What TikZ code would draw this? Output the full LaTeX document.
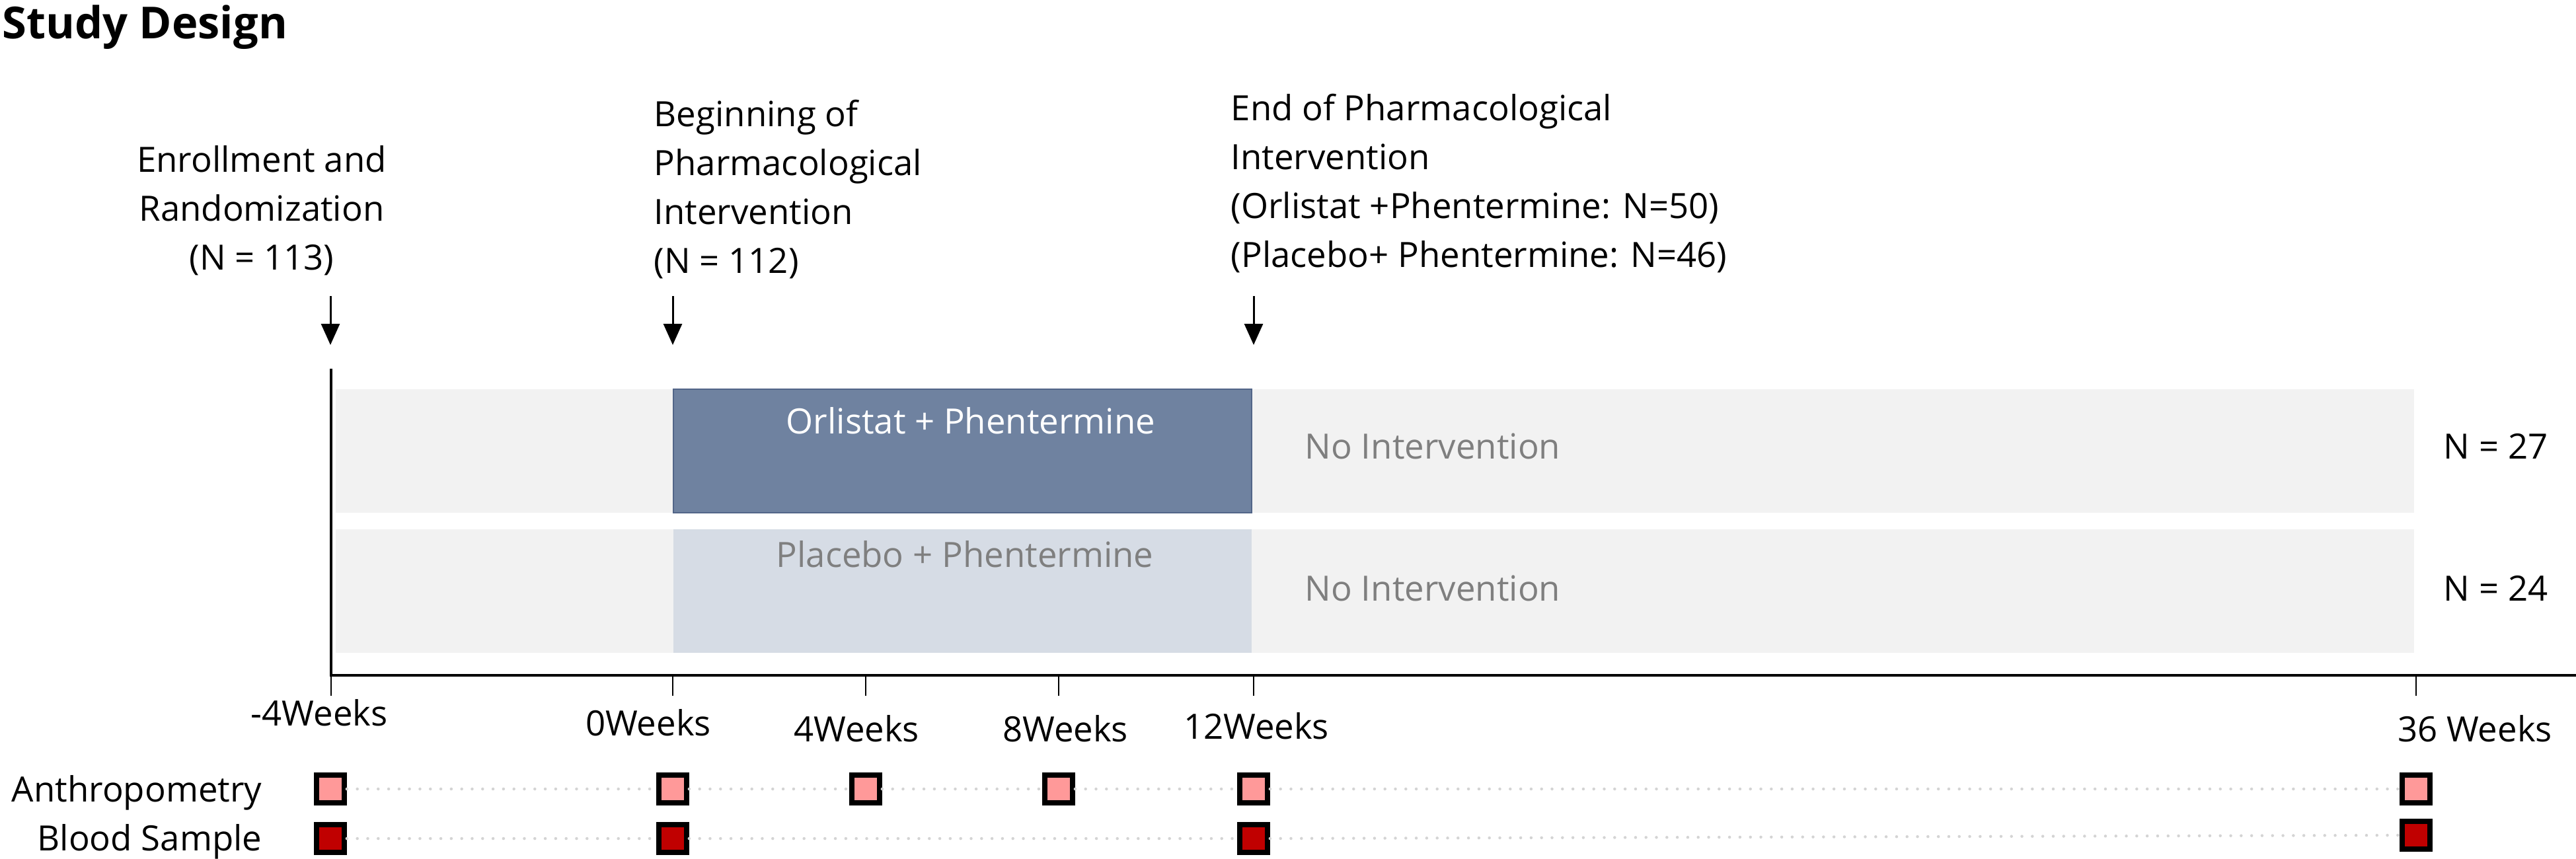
\documentclass[tikz,border=0pt]{standalone}
\usepackage{fontspec}
\setmainfont{Open Sans}
\usetikzlibrary{arrows.meta, positioning}

\definecolor{rowgray}{RGB}{242,242,242}
\definecolor{orlblue}{RGB}{111,130,160}
\definecolor{orledge}{RGB}{82,101,136}
\definecolor{plcblue}{RGB}{214,220,229}
\definecolor{notegray}{RGB}{127,127,127}
\definecolor{anthpink}{RGB}{255,153,153}
\definecolor{bloodred}{RGB}{192,0,0}
\definecolor{dotgray}{RGB}{212,212,212}

\begin{document}
\begin{tikzpicture}[>={Triangle[length=0.32cm, width=0.28cm]}, font=\fontsize{15}{21}\selectfont,
  bar/.style={minimum height=1.87cm, inner sep=0pt},
  txt/.style={inner sep=0pt, anchor=base west},
  marker/.style={draw=black, line width=2.2pt, minimum size=0.42cm, inner sep=0pt},
  dotline/.style={dotgray, line width=0.045cm, line cap=round, dash pattern=on 0pt off 0.158cm}]
  \useasboundingbox (0,0) rectangle (38.98,-12.99);

  \node[txt, font=\fontsize{19}{22}\selectfont\bfseries] (title) at (0.03,-0.58) {Study Design};

  % milestones above the time line (base = last line)
  \node[inner sep=0pt, anchor=base, align=center] (enroll-label) at (3.96,-4.08) {Enrollment and\\Randomization\\(N = 113)};
  \node[txt, align=left] (begin-label) at (9.89,-4.13) {Beginning of\\Pharmacological\\Intervention\\(N = 112)};
  \node[txt, align=left] (end-label) at (18.62,-4.04) {End of Pharmacological\\Intervention\\(Orlistat +Phentermine: N=50)\\(Placebo+ Phentermine: N=46)};

  \foreach \n/\x in {0/5.00, 1/10.18, 2/18.97} {
    \coordinate (arr-\n-top) at (\x,-4.48);
    \coordinate (arr-\n-tip) at (\x,-5.22);
    \draw[->, line width=0.85pt] (arr-\n-top) -- (arr-\n-tip);
  };

  % treatment arms
  \node[bar, fill=rowgray, minimum width=31.45cm] (row-0) at (20.805,-6.825) {};
  \node[bar, fill=rowgray, minimum width=31.45cm] (row-1) at (20.805,-8.94) {};
  \node[bar, fill=orlblue, draw=orledge, line width=0.5pt, minimum width=8.75cm] (orlistat) at (14.565,-6.825) {};
  \node[bar, fill=plcblue, minimum width=8.75cm] (placebo) at (14.565,-8.94) {};
  \node[inner sep=0pt, anchor=base, text=white] (orlistat-text) at (14.69,-6.56) {Orlistat + Phentermine};
  \node[inner sep=0pt, anchor=base, text=notegray] (placebo-text) at (14.60,-8.58) {Placebo + Phentermine};
  \node[txt, text=notegray] (noint-0) at (19.74,-6.94) {No Intervention};
  \node[txt, text=notegray] (noint-1) at (19.74,-9.09) {No Intervention};
  \node[txt] (n-0) at (36.97,-6.94) {N = 27};
  \node[txt] (n-1) at (36.97,-9.09) {N = 24};

  % time line
  \coordinate (ax-top) at (5.01,-5.58);
  \coordinate (origin) at (5.01,-10.22);
  \coordinate (ax-end) at (38.98,-10.22);
  \draw[line width=1pt] (ax-top) -- (origin) -- (ax-end);
  \foreach \n/\x in {0/5.01, 1/10.18, 2/13.10, 3/16.02, 4/18.97, 5/36.56} {
    \coordinate (tick-\n) at (\x,-10.22);
    \draw[line width=0.6pt] (tick-\n) -- ++(0,-0.31);
  };
  \foreach \n/\x/\y/\t in {0/4.83/10.98/-4Weeks, 1/9.81/11.13/0Weeks, 2/12.96/11.22/4Weeks,
                           3/16.12/11.22/8Weeks, 4/19.01/11.18/12Weeks, 5/37.45/11.22/36 Weeks} {
    \node[inner sep=0pt, anchor=base] (week-\n) at (\x,-\y) {\t};
  };

  % measurements
  \node[inner sep=0pt, anchor=base east] (anthro-label) at (3.97,-12.13) {Anthropometry};
  \node[inner sep=0pt, anchor=base east] (blood-label) at (3.97,-12.87) {Blood Sample};
  \foreach \n/\x in {0/5.00, 1/10.18, 2/13.10, 3/16.02, 4/18.97, 5/36.56}
    \node[marker, fill=anthpink] (anthro-\n) at (\x,-11.94) {};
  \foreach \n/\x/\y in {0/5.00/12.69, 1/10.18/12.69, 4/18.97/12.69, 5/36.56/12.64}
    \node[marker, fill=bloodred] (blood-\n) at (\x,-\y) {};
  \foreach \a/\b in {0/1, 1/2, 2/3, 3/4, 4/5}
    \draw[dotline] (anthro-\a.east) -- (anthro-\b.west);
  \foreach \a/\b in {0/1, 1/4, 4/5}
    \draw[dotline] (blood-\a.east) -- (blood-\b.west);
\end{tikzpicture}
\end{document}
